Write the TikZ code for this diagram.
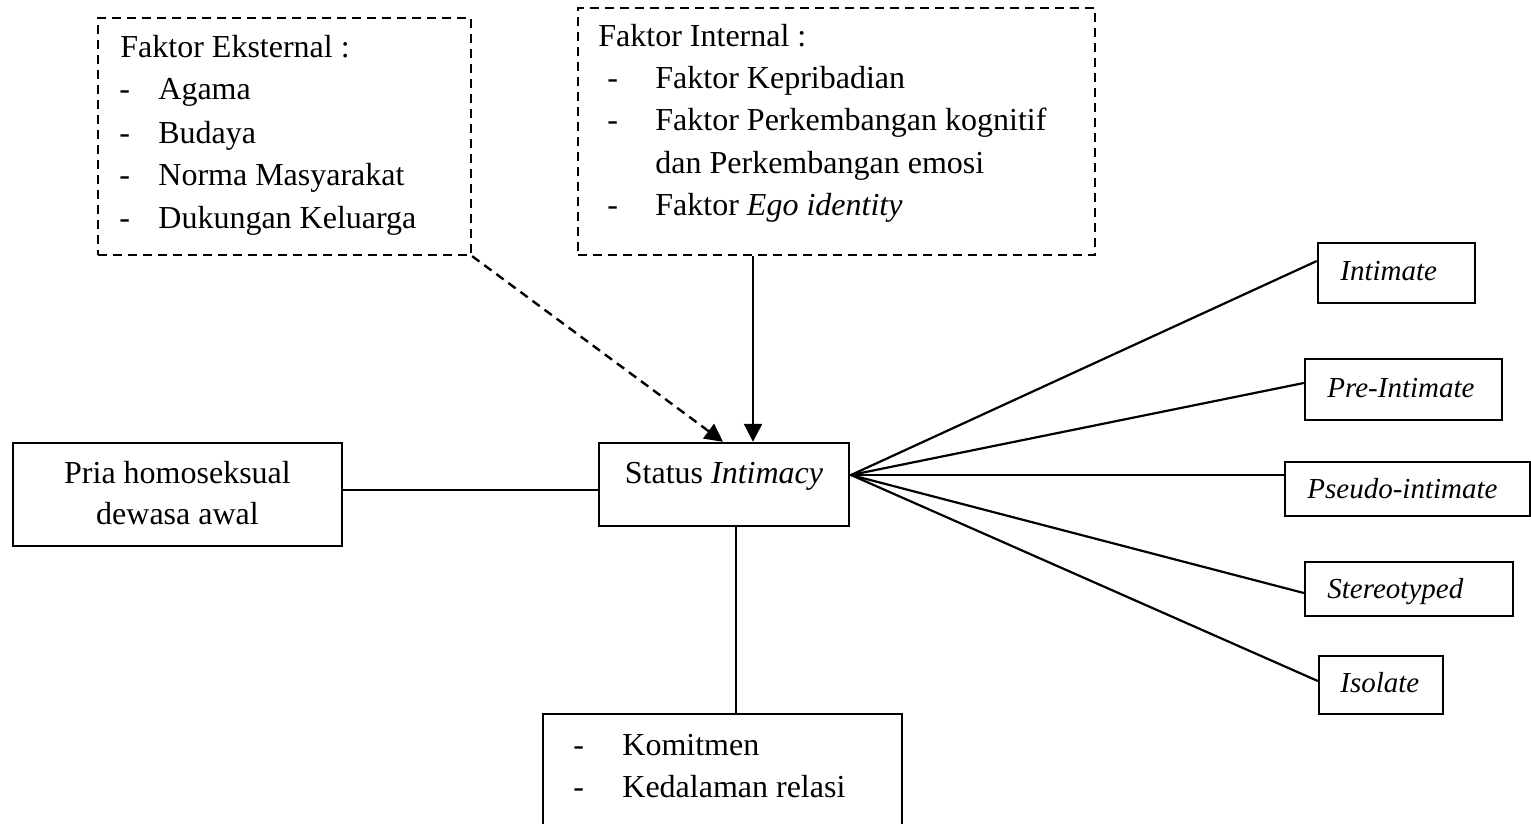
\documentclass[tikz,border=0pt]{standalone}
\usepackage{fontspec}
\setmainfont{Liberation Serif}
\usetikzlibrary{arrows.meta,calc}
\begin{document}
\begin{tikzpicture}[x=0.5pt,y=-0.5pt,
  box/.style={draw,line width=1.2pt,inner sep=0pt},
  dbox/.style={box,dash pattern=on 4.5pt off 3pt},
  lbl/.style={anchor=base west,inner sep=0pt,font=\fontsize{16}{20}\selectfont},
  clbl/.style={anchor=base,inner sep=0pt,font=\fontsize{16}{20}\selectfont},
  ilbl/.style={anchor=base west,inner sep=0pt,font=\fontsize{14.5}{18}\selectfont\itshape},
  conn/.style={line width=1.1pt},
  arr/.style={line width=1.2pt,-{Triangle[length=9pt,width=9pt]}},
  darr/.style={arr,dash pattern=on 4.5pt off 3pt}]
\clip (0,0) rectangle (1531,824);
\useasboundingbox (0,0) rectangle (1531,824);
% boxes
\node[dbox,minimum width=186.5pt,minimum height=118.5pt] (ext) at (284.5,136.5) {};
\node[dbox,minimum width=258.5pt,minimum height=123.5pt] (int) at (836.5,131.5) {};
\node[box,minimum width=125pt,minimum height=41.5pt] (status) at (724,484.5) {};
\node[box,minimum width=164.5pt,minimum height=51.5pt] (pria) at (177.5,494.5) {};
\node[box,minimum width=179.5pt,minimum height=63pt] (bot) at (722.5,777) {};
\node[box,minimum width=78.5pt,minimum height=30pt] (intimate) at (1396.5,273) {};
\node[box,minimum width=98.5pt,minimum height=30.5pt] (pre) at (1403.5,389.5) {};
\node[box,minimum width=122.5pt,minimum height=27pt] (pseudo) at (1407.5,489) {};
\node[box,minimum width=104pt,minimum height=27pt] (stereo) at (1409,589) {};
\node[box,minimum width=62pt,minimum height=29pt] (isolate) at (1381,685) {};
% texts: external
\node[lbl] (e0) at (120,58) {Faktor Eksternal :};
\node[lbl] (e1d) at (119,100) {-};
\node[lbl] (e1) at (158,100) {Agama};
\node[lbl] (e2d) at (119,143) {-};
\node[lbl] (e2) at (158,143) {Budaya};
\node[lbl] (e3d) at (119,185) {-};
\node[lbl] (e3) at (158,185) {Norma Masyarakat};
\node[lbl] (e4d) at (119,228) {-};
\node[lbl] (e4) at (158,228) {Dukungan Keluarga};
% texts: internal
\node[lbl] (i0) at (598,47) {Faktor Internal :};
\node[lbl] (i1d) at (607,89) {-};
\node[lbl] (i1) at (655,89) {Faktor Kepribadian};
\node[lbl] (i2d) at (607,131) {-};
\node[lbl] (i2) at (655,131) {Faktor Perkembangan kognitif};
\node[lbl] (i2b) at (655,173) {dan Perkembangan emosi};
\node[lbl] (i3d) at (607,215) {-};
\node[lbl] (i3) at (655,215) {Faktor \textit{Ego identity}};
% status, pria, bottom
\node[clbl] (st) at (724,483) {Status \textit{Intimacy}};
\node[clbl] (p1) at (177.5,483) {Pria homoseksual};
\node[clbl] (p2) at (177.5,524) {dewasa awal};
\node[lbl] (b1d) at (573,755) {-};
\node[lbl] (b1) at (622,755) {Komitmen};
\node[lbl] (b2d) at (573,797) {-};
\node[lbl] (b2) at (622,797) {Kedalaman relasi};
% right labels
\node[ilbl] (r1) at (1340,280) {Intimate};
\node[ilbl] (r2) at (1327,397) {Pre-Intimate};
\node[ilbl] (r3) at (1307,498) {Pseudo-intimate};
\node[ilbl] (r4) at (1327,598) {Stereotyped};
\node[ilbl] (r5) at (1340,692) {Isolate};
% connectors
\coordinate (a1) at (753,0);
\coordinate (a2) at (723,0);
\coordinate (h1) at (0,490);
\coordinate (v1) at (736,0);
\coordinate (fan) at (851,475);
\draw[arr] (int.south -| a1) -- (status.north -| a1);
\draw[darr] (ext.south east) -- (status.north -| a2);
\draw[conn] (pria.east |- h1) -- (status.west |- h1);
\draw[conn] (status.south -| v1) -- (bot.north -| v1);
\draw[conn] (fan) -- ([yshift=6pt]intimate.west);
\draw[conn] (fan) -- ([yshift=3.25pt]pre.west);
\draw[conn] (fan) -- (pseudo.west |- fan);
\draw[conn] (fan) -- ([yshift=-2pt]stereo.west);
\draw[conn] (fan) -- ([yshift=2pt]isolate.west);
\draw[conn] (status.east |- fan) -- (fan);
\end{tikzpicture}
\end{document}
